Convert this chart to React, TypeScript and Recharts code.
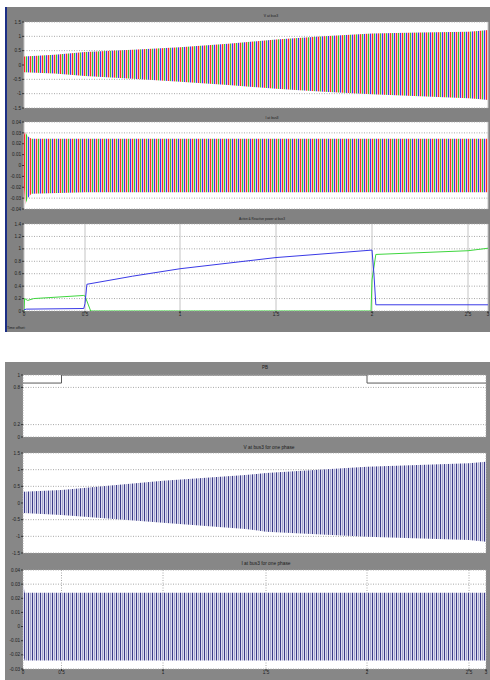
import React from 'react';
import { ComposedChart, Area, Line, XAxis, YAxis, CartesianGrid } from 'recharts';

// ---------------- data ----------------
const TIME_TICKS = [0, 0.5, 1, 1.5, 2, 2.5, 3];
const TIME_LABELS = ['0', '0.5', '1', '1.5', '2', '2.5', '3'];

// V at bus3 (three phases) - envelope of the oscillation
const V3_T = [0, 0.25, 0.5, 0.75, 1, 1.25, 1.5, 1.75, 2, 2.25, 2.5, 2.75, 3];
const V3_HI = [0.3, 0.36, 0.45, 0.53, 0.62, 0.74, 0.89, 1.0, 1.1, 1.13, 1.16, 1.19, 1.22];
const V3_LO = [-0.25, -0.3, -0.38, -0.48, -0.58, -0.7, -0.83, -0.93, -1.02, -1.09, -1.16, -1.19, -1.22];

// I at bus3 (three phases) - envelope
const I3_T = [0, 0.01, 0.03, 0.06, 0.5, 1, 1.5, 2, 2.5, 3];
const I3_HI = [0.028, 0.031, 0.027, 0.0245, 0.0245, 0.0245, 0.0245, 0.0245, 0.0245, 0.0245];
const I3_LO = [-0.02, -0.036, -0.03, -0.026, -0.0245, -0.0245, -0.0245, -0.0245, -0.0245, -0.0245];

// Active & Reactive power at bus3
const P_T = [0, 0.02, 0.49, 0.5, 0.51, 0.75, 1, 1.25, 1.5, 1.75, 2, 2.01, 2.02, 2.5, 3];
const P_V = [0.02, 0.03, 0.04, 0.12, 0.43, 0.56, 0.68, 0.77, 0.86, 0.92, 0.98, 0.6, 0.1, 0.1, 0.1];
const Q_T = [0, 0.005, 0.03, 0.08, 0.49, 0.5, 0.53, 1, 1.5, 1.995, 2.0, 2.02, 2.5, 3];
const Q_V = [0, 0.2, 0.17, 0.2, 0.25, 0.24, 0, 0, 0, 0, 0.5, 0.91, 0.97, 1.01];

// PB
const PB_T = [0, 0.5, 2, 3];
const PB_V = [0.87, 1, 0.87, 0.87];

// V at bus3 for one phase - envelope
const V1_T = [0, 0.5, 1, 1.4, 1.5, 2, 2.5, 3];
const V1_HI = [0.34, 0.39, 0.67, 0.84, 0.9, 1.09, 1.19, 1.24];
const V1_LO = [-0.3, -0.36, -0.59, -0.78, -0.86, -1.01, -1.11, -1.16];

// I at bus3 for one phase - envelope
const I1_T = [0, 0.005, 0.02, 0.5, 1, 1.5, 2, 2.5, 3];
const I1_HI = [0.005, 0.03, 0.024, 0.024, 0.024, 0.024, 0.024, 0.024, 0.024];
const I1_LO = [-0.01, -0.02, -0.024, -0.024, -0.024, -0.024, -0.024, -0.024, -0.024];

// y tick values
const V_TICKS = [-1.5, -1, -0.5, 0, 0.5, 1, 1.5];
const I3_TICKS = [-0.04, -0.03, -0.02, -0.01, 0, 0.01, 0.02, 0.03, 0.04];
const PQ_TICKS = [0, 0.2, 0.4, 0.6, 0.8, 1, 1.2, 1.4];
const PB_TICKS = [0, 0.2, 0.8, 1];
const I1_TICKS = [-0.03, -0.02, -0.01, 0, 0.01, 0.02, 0.03, 0.04];

// ---------------- layout ----------------
const TOP_BOX = { left: 24, right: 488 };
const BOT_BOX = { left: 23, right: 486 };
// the time axis of the screenshots is not uniform: pixel position of each time tick
const TOP_TICK_PX = [24, 85, 180, 276, 372, 468, 488];
const BOT_TICK_PX = [23, 61.5, 163, 266, 367, 469, 486];
const PAD = 4;

type Box = { left: number; right: number };

function makeWarp(tickPx: number[], box: Box) {
  const fr = tickPx.map((p) => (p - box.left) / (box.right - box.left));
  const u = (t: number) => {
    let i = Math.floor(t / 0.5);
    if (i < 0) i = 0;
    if (i > TIME_TICKS.length - 2) i = TIME_TICKS.length - 2;
    const a = TIME_TICKS[i];
    const b = TIME_TICKS[i + 1];
    return fr[i] + ((t - a) / (b - a)) * (fr[i + 1] - fr[i]);
  };
  const label = (v: number) => {
    let best = 0;
    fr.forEach((f, i) => {
      if (Math.abs(f - v) < Math.abs(fr[best] - v)) best = i;
    });
    return TIME_LABELS[best];
  };
  return { fr, u, label };
}

const topWarp = makeWarp(TOP_TICK_PX, TOP_BOX);
const botWarp = makeWarp(BOT_TICK_PX, BOT_BOX);

const band = (ts: number[], lo: number[], hi: number[], w: typeof topWarp) =>
  ts.map((t, i) => ({ u: w.u(t), band: [lo[i], hi[i]] }));
const series = (ts: number[], vs: number[], w: typeof topWarp) =>
  ts.map((t, i) => ({ u: w.u(t), v: vs[i] }));

const v3Data = band(V3_T, V3_LO, V3_HI, topWarp);
const i3Data = band(I3_T, I3_LO, I3_HI, topWarp);
const pData = series(P_T, P_V, topWarp);
const qData = series(Q_T, Q_V, topWarp);
const pbData = series(PB_T, PB_V, botWarp);
const v1Data = band(V1_T, V1_LO, V1_HI, botWarp);
const i1Data = band(I1_T, I1_LO, I1_HI, botWarp);

const FONT = "'Liberation Sans', Arial, sans-serif";

type PanelOpts = {
  box: Box;
  top: number;
  bottom: number;
  domain: [number, number];
  yTicks: number[];
  warp: typeof topWarp;
  xLabels: boolean;
  solidVertical: boolean;
};

function renderPanel(o: PanelOpts, content: React.ReactNode[]) {
  const xh = o.xLabels ? 8 : 0;
  const plotH = o.bottom - o.top;
  return (
    <div style={{ position: 'absolute', left: 0, top: o.top - PAD }}>
      <ComposedChart
        width={o.box.right + 2}
        height={plotH + xh + PAD * 2}
        margin={{ top: PAD, right: 2, bottom: PAD, left: 0 }}
      >
        <defs>
          <pattern id="stripes3" patternUnits="userSpaceOnUse" width="6" height="10">
            <rect x="0" y="0" width="6" height="10" fill="#f2c8c6" />
            <rect x="0" y="0" width="1" height="10" fill="#ff2a2a" />
            <rect x="2" y="0" width="1" height="10" fill="#2ed22e" />
            <rect x="4" y="0" width="1" height="10" fill="#3636ff" />
          </pattern>
          <pattern id="stripes1" patternUnits="userSpaceOnUse" width="4" height="10">
            <rect x="0" y="0" width="4" height="10" fill="#dcdcee" />
            <rect x="0" y="0" width="1" height="10" fill="#3b3b88" />
            <rect x="2" y="0" width="1" height="10" fill="#a4a4cc" />
          </pattern>
        </defs>
        <CartesianGrid
          fill="#ffffff"
          vertical={false}
          stroke="#a8a8a8"
          strokeDasharray="1 1.5"
        />
        <CartesianGrid
          horizontal={false}
          stroke={o.solidVertical ? '#c4c4c4' : '#a8a8a8'}
          strokeDasharray={o.solidVertical ? undefined : '1 1.5'}
        />
        <XAxis
          type="number"
          dataKey="u"
          domain={[0, 1]}
          allowDataOverflow
          ticks={o.warp.fr}
          interval={0}
          tickFormatter={o.warp.label}
          height={xh}
          axisLine={false}
          tick={o.xLabels ? { fontSize: 4.6, fill: '#1e1e1e', fontFamily: FONT } : false}
          tickLine={o.xLabels ? { stroke: '#333' } : false}
          tickSize={2}
          tickMargin={0}
        />
        <YAxis
          type="number"
          domain={o.domain}
          allowDataOverflow
          ticks={o.yTicks}
          interval={0}
          width={o.box.left}
          axisLine={false}
          tick={{ fontSize: 4.6, fill: '#1e1e1e', fontFamily: FONT }}
          tickLine={{ stroke: '#333' }}
          tickSize={2}
          tickMargin={1}
          tickFormatter={(v: number) => String(v)}
        />
        {content}
      </ComposedChart>
    </div>
  );
}

export default function App() {
  return (
    <div
      style={{
        position: 'absolute',
        left: 0,
        top: 0,
        width: 490,
        height: 680,
        background: '#ffffff',
        overflow: 'hidden',
      }}
    >
      <svg width={490} height={680} style={{ position: 'absolute', left: 0, top: 0 }}>
        <rect x={7} y={7} width={483} height={325} fill="#828282" />
        <rect x={5} y={7} width={2} height={325} fill="#1c2f86" />
        <rect x={5} y={362} width={485} height={318} fill="#878787" />
        <g fontFamily={FONT} fill="#1a1a1a" textAnchor="middle">
          <text x={271} y={16.5} fontSize={3.4}>V at bus3</text>
          <text x={272} y={118.5} fontSize={3.4}>I at bus3</text>
          <text x={262} y={219.5} fontSize={3.2}>Active &amp; Reactive power at bus3</text>
          <text x={265} y={369} fontSize={4.5}>PB</text>
          <text x={269} y={449} fontSize={4.8}>V at bus3 for one phase</text>
          <text x={266} y={565} fontSize={4.8}>I at bus3 for one phase</text>
        </g>
        <text x={7} y={328.5} fontSize={3.6} fontFamily={FONT} fill="#1a1a1a">Time offset:</text>
      </svg>

      {renderPanel(
        { box: TOP_BOX, top: 22, bottom: 108, domain: [-1.5, 1.5], yTicks: V_TICKS, warp: topWarp, xLabels: false, solidVertical: true },
        [
          <Area key="v3" data={v3Data} dataKey="band" type="linear" stroke="none" fill="url(#stripes3)" fillOpacity={1} isAnimationActive={false} />,
        ]
      )}
      {renderPanel(
        { box: TOP_BOX, top: 122, bottom: 209, domain: [-0.04, 0.04], yTicks: I3_TICKS, warp: topWarp, xLabels: false, solidVertical: true },
        [
          <Area key="i3" data={i3Data} dataKey="band" type="linear" stroke="none" fill="url(#stripes3)" fillOpacity={1} isAnimationActive={false} />,
        ]
      )}
      {renderPanel(
        { box: TOP_BOX, top: 224, bottom: 311, domain: [0, 1.4], yTicks: PQ_TICKS, warp: topWarp, xLabels: true, solidVertical: true },
        [
          <Line key="q" data={qData} dataKey="v" type="linear" stroke="#3ed63e" strokeWidth={1} dot={false} isAnimationActive={false} />,
          <Line key="p" data={pData} dataKey="v" type="linear" stroke="#3a3ae6" strokeWidth={1} dot={false} isAnimationActive={false} />,
        ]
      )}
      {renderPanel(
        { box: BOT_BOX, top: 375, bottom: 437, domain: [0, 1], yTicks: PB_TICKS, warp: botWarp, xLabels: false, solidVertical: false },
        [
          <Line key="pb" data={pbData} dataKey="v" type="stepAfter" stroke="#5a5a5a" strokeWidth={1} dot={false} isAnimationActive={false} />,
        ]
      )}
      {renderPanel(
        { box: BOT_BOX, top: 453, bottom: 553, domain: [-1.5, 1.5], yTicks: V_TICKS, warp: botWarp, xLabels: false, solidVertical: false },
        [
          <Area key="v1" data={v1Data} dataKey="band" type="linear" stroke="none" fill="url(#stripes1)" fillOpacity={1} isAnimationActive={false} />,
        ]
      )}
      {renderPanel(
        { box: BOT_BOX, top: 570, bottom: 669, domain: [-0.03, 0.04], yTicks: I1_TICKS, warp: botWarp, xLabels: true, solidVertical: false },
        [
          <Area key="i1" data={i1Data} dataKey="band" type="linear" stroke="none" fill="url(#stripes1)" fillOpacity={1} isAnimationActive={false} />,
        ]
      )}
    </div>
  );
}
